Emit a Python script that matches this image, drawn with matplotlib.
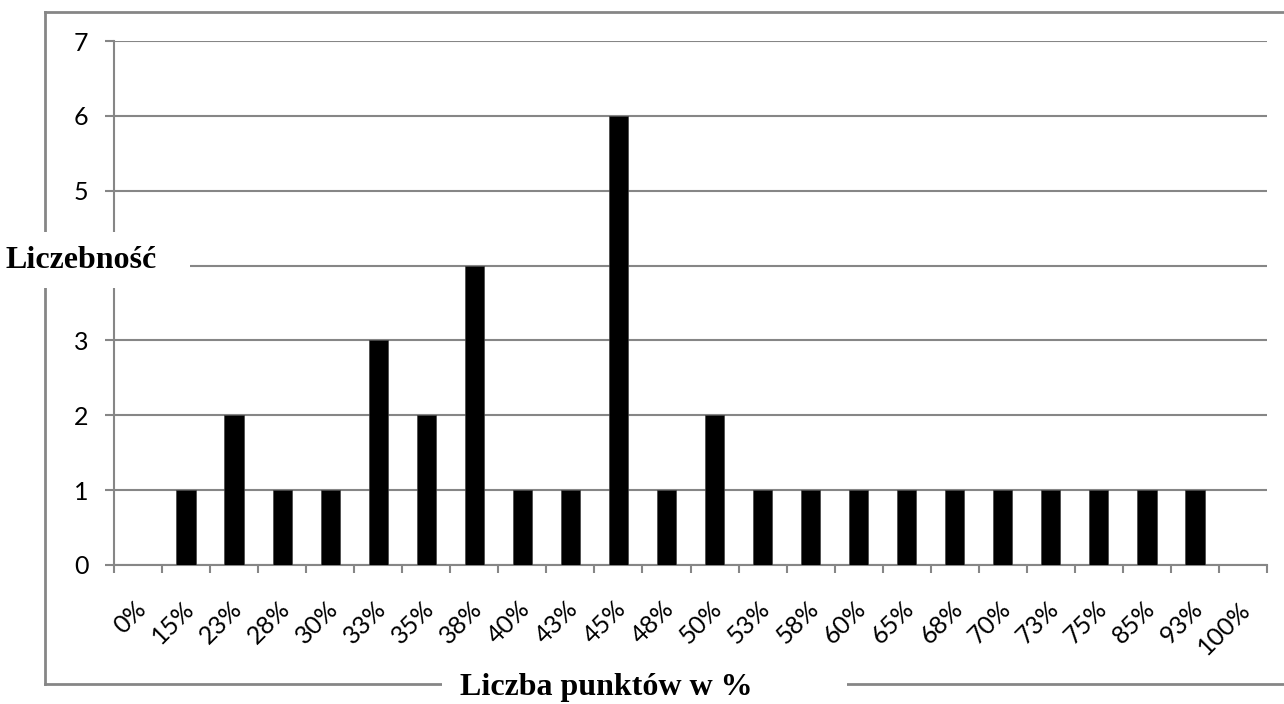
import numpy as np
import matplotlib.pyplot as plt
from matplotlib.lines import Line2D
from matplotlib.patches import Rectangle
from matplotlib.transforms import ScaledTranslation

# data
labels = ["0%", "15%", "23%", "28%", "30%", "33%", "35%", "38%", "40%", "43%",
          "45%", "48%", "50%", "53%", "58%", "60%", "65%", "68%", "70%", "73%",
          "75%", "85%", "93%", "100%"]
counts = [0, 1, 2, 1, 1, 3, 2, 4, 1, 1, 6, 1, 2, 1, 1, 1, 1, 1, 1, 1, 1, 1, 1, 0]
yticks = [0, 1, 2, 3, 4, 5, 6, 7]

W, H = 1284, 704
gray = "#868686"
tick_font = "Lato"
title_font = "Liberation Serif"

fig = plt.figure(figsize=(W / 100, H / 100), dpi=100)
fx = lambda px: px / W
fy = lambda py: 1 - py / H

# plot area
ax = fig.add_axes([fx(114), fy(565), fx(1267) - fx(114), fy(41) - fy(565)])
x = np.arange(len(labels))
ax.bar(x, counts, width=0.4, color="black", edgecolor="#444444", linewidth=0.5, zorder=3)

ax.set_xlim(-0.5, len(labels) - 0.5)
ax.set_ylim(0, 7)
for s in ["top", "right"]:
    ax.spines[s].set_visible(False)
for s in ["left", "bottom"]:
    ax.spines[s].set_color(gray)
    ax.spines[s].set_linewidth(1.5)

ax.set_yticks(yticks)
ax.set_yticklabels([str(v) for v in yticks], fontfamily=tick_font, fontsize=18)
ax.tick_params(axis="y", length=6.5, width=1.5, color=gray, pad=12)
ax.grid(axis="y", color=gray, linewidth=1.5, zorder=0)
ax.set_axisbelow(True)
# the "4" label sits under the axis title box in the original
ax.get_yticklabels()[4].set_visible(False)

ax.set_xticks(x)
ax.set_xticklabels(labels, fontfamily=tick_font, fontsize=18, rotation=45,
                   ha="right", va="center", rotation_mode="anchor")
ax.tick_params(axis="x", which="major", length=0, pad=29)
shift = ScaledTranslation(4 / 100, 0, fig.dpi_scale_trans)
for t in ax.get_xticklabels():
    t.set_transform(t.get_transform() + shift)
ax.set_xticks(np.arange(len(labels) + 1) - 0.5, minor=True)
ax.tick_params(axis="x", which="minor", length=6, width=1.5, color=gray)

# outer chart border
lw = 2
fig.add_artist(Line2D([fx(45), fx(1284)], [fy(12), fy(12)], color=gray, lw=lw))
fig.add_artist(Line2D([fx(45), fx(45)], [fy(12), fy(684)], color=gray, lw=lw))
fig.add_artist(Line2D([fx(45), fx(1284)], [fy(684), fy(684)], color=gray, lw=lw))

# axis titles on white boxes
fig.add_artist(Rectangle((fx(0), fy(288)), fx(190), fy(232) - fy(288),
                         facecolor="white", edgecolor="none", zorder=4))
fig.text(fx(5), fy(260), "Liczebność", fontfamily=title_font, fontweight="bold",
         fontsize=23, ha="left", va="center", zorder=5)
fig.add_artist(Rectangle((fx(442), fy(704)), fx(847) - fx(442), fy(666) - fy(704),
                         facecolor="white", edgecolor="none", zorder=4))
fig.text(fx(606), fy(688), "Liczba punktów w %", fontfamily=title_font,
         fontweight="bold", fontsize=23, ha="center", va="center", zorder=5)

fig.savefig("out.png", dpi=100)
